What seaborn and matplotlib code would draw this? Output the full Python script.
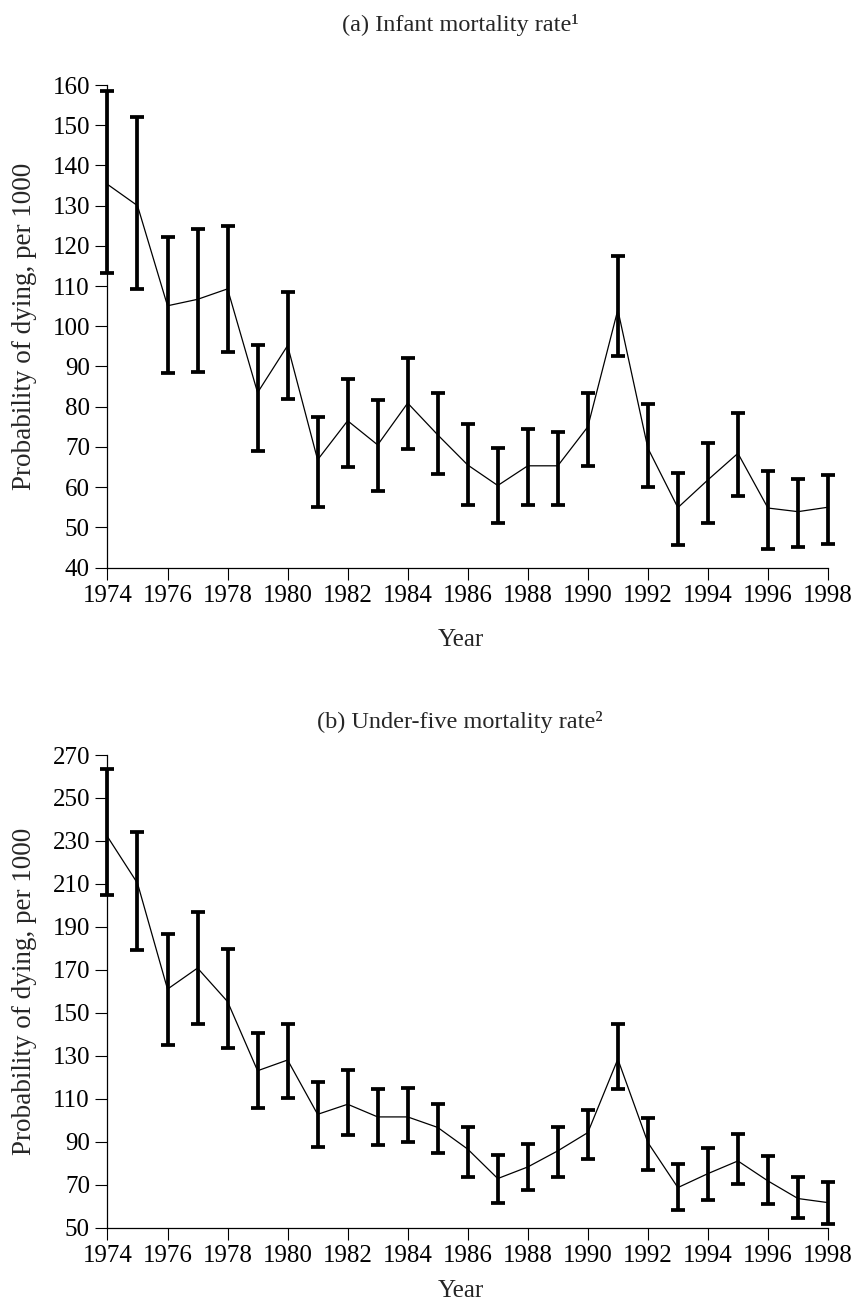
import numpy as np
import pandas as pd
import seaborn as sns
import matplotlib.pyplot as plt

years = list(range(1974, 1999))

# (a) infant mortality, per 1000
imr = [135.3, 130.0, 105.1, 106.7, 109.3, 83.5, 95.2, 66.8, 76.5, 70.5, 80.9, 73.0, 65.5,
       60.4, 65.3, 65.3, 75.0, 104.1, 69.7, 54.9, 61.8, 68.4, 54.8, 53.9, 55.0]
imr_low = [113.3, 109.3, 88.3, 88.6, 93.5, 69.1, 81.9, 55.0, 65.0, 59.1, 69.4, 63.2, 55.6,
           51.0, 55.6, 55.6, 65.3, 92.7, 60.0, 45.5, 51.0, 57.8, 44.6, 45.2, 45.9]
imr_high = [158.6, 152.0, 122.3, 124.2, 125.0, 95.4, 108.6, 77.4, 86.8, 81.7, 92.0, 83.3, 75.6,
            69.8, 74.4, 73.8, 83.3, 117.5, 80.7, 63.6, 70.9, 78.5, 64.0, 62.0, 62.9]

# (b) under-five mortality, per 1000
u5mr = [232.0, 210.3, 161.0, 170.8, 155.2, 123.0, 128.0, 102.7, 107.4, 101.5, 101.5, 96.6, 86.5,
        72.8, 78.2, 85.7, 94.2, 128.4, 89.6, 68.6, 75.1, 81.0, 71.7, 63.5, 61.6]
u5mr_low = [204.8, 179.3, 135.1, 144.8, 133.4, 105.5, 110.4, 87.5, 92.9, 88.2, 89.6, 84.9, 73.6,
            61.6, 67.5, 73.6, 81.8, 114.4, 76.8, 58.2, 62.9, 70.2, 60.9, 54.3, 51.6]
u5mr_high = [263.3, 234.3, 186.7, 197.0, 179.7, 140.8, 144.8, 117.8, 123.3, 114.6, 114.9, 107.7, 96.6,
             83.8, 88.8, 96.6, 104.6, 144.7, 100.9, 79.5, 87.2, 93.5, 83.1, 73.6, 71.0]

sns.set_style("ticks")
plt.rcParams['font.family'] = ['Liberation Serif', 'DejaVu Serif']
plt.rcParams['font.size'] = 18

fig = plt.figure(figsize=(8.55, 13.02), dpi=100)
ax_a = fig.add_axes([0.1257, 0.5641, 0.8427, 0.3706])
ax_b = fig.add_axes([0.1257, 0.0572, 0.8427, 0.3629])


def draw_panel(ax, y, lo, hi, ylim, yticks):
    df = pd.DataFrame({'year': years, 'rate': y, 'lo': lo, 'hi': hi})
    sns.lineplot(data=df, x='year', y='rate', ax=ax, color='black', linewidth=0.9)
    err = [df['rate'] - df['lo'], df['hi'] - df['rate']]
    eb = ax.errorbar(df['year'], df['rate'], yerr=err, fmt='none', ecolor='black',
                     elinewidth=2.7, capsize=4.8, capthick=2.7)
    for art in list(eb.lines[1]) + list(eb.lines[2]):
        art.set_clip_on(False)
    ax.set_xlim(1974, 1998)
    ax.set_ylim(*ylim)
    ax.set_xticks(range(1974, 1999, 2))
    ax.set_yticks(yticks)
    ax.tick_params(direction='out', length=8.6, width=0.8, labelsize=18, pad=4, colors='black')
    for s in ['left', 'bottom']:
        ax.spines[s].set_linewidth(0.9)
        ax.spines[s].set_color('black')
    sns.despine(ax=ax)
    ax.set_xlabel('Year', fontsize=18)
    ax.set_ylabel('Probability of dying, per 1000', fontsize=19.5)
    ax.yaxis.set_label_coords(-0.098, 0.5)


draw_panel(ax_a, imr, imr_low, imr_high, (40, 160), range(40, 161, 10))
draw_panel(ax_b, u5mr, u5mr_low, u5mr_high, (50, 270), range(50, 271, 20))
ax_a.xaxis.set_label_coords(0.49, -0.128)
ax_b.xaxis.set_label_coords(0.49, -0.112)

fig.text(0.538, 1 - 25 / 1302, '(a) Infant mortality rate¹', ha='center', va='center', fontsize=17.5)
fig.text(0.538, 1 - 722 / 1302, '(b) Under-five mortality rate²', ha='center', va='center', fontsize=17.5)

fig.savefig('out.png', dpi=100)
